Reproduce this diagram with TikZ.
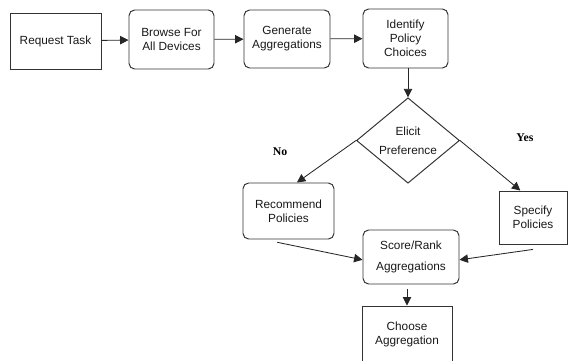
\documentclass[tikz,border=0pt]{standalone}
\usepackage{fontspec}
\setsansfont{Liberation Sans}
\setmainfont{Liberation Serif}
\usetikzlibrary{arrows.meta, positioning, shapes.geometric}

\begin{document}
\begin{tikzpicture}[
    >={Triangle[length=6pt, width=6pt]},
    every path/.style={line width=0.6pt, black!85},
    sqbox/.style={rectangle, draw=black!80, line width=0.7pt, inner sep=1pt,
                font=\sffamily\fontsize{8.4}{10}\selectfont, align=center, text=black!90},
    rndbox/.style={sqbox, rounded corners=4pt},
    choicebox/.style={diamond, draw=black!80, line width=0.7pt, inner sep=0pt,
                minimum width=2.575cm, minimum height=2.075cm,
                font=\sffamily\fontsize{8.4}{10}\selectfont, align=center, text=black!90},
    answer/.style={font=\rmfamily\bfseries\fontsize{8.4}{10}\selectfont, text=black},
]
\useasboundingbox (0,0) rectangle (14.2,9);
% top row
\node[sqbox, minimum width=2.275cm, minimum height=1.4cm] (req) at (1.3875, 7.975) {Request Task};
\node[rndbox, minimum width=2.125cm, minimum height=1.475cm] (browse) at (4.2875, 8.0125) {Browse For\\All Devices};
\node[rndbox, minimum width=2.15cm, minimum height=1.45cm] (gen) at (7.175, 8.025) {Generate\\Aggregations};
\node[rndbox, minimum width=2.125cm, minimum height=1.475cm] (ident) at (10.1375, 8.0375) {Identify\\Policy\\Choices};
\draw[->] (req) -- (browse);
\draw[->] (browse) -- (gen);
\draw[->] (gen) -- (ident);
% decision
\node[choicebox] (elicit) at (10.2, 5.4875) {Elicit\\[3.5pt]Preference};
\draw[->] (ident.south -| elicit.north) -- (elicit.north);
\node[answer] (no) at (7.0, 5.2) {No};
\node[answer] (yes) at (13.125, 5.55) {Yes};
\node[rndbox, minimum width=2.275cm, minimum height=1.4cm] (rec) at (7.2125, 3.725) {Recommend\\Policies};
\node[sqbox, minimum width=1.7cm, minimum height=1.325cm] (spec) at (13.325, 3.5625) {Specify\\Policies};
\draw[->] (elicit.west) -- ([xshift=6pt]rec.north);
\draw[->] (elicit.east) -- ([xshift=-9pt]spec.north);
% ranking
\node[rndbox, minimum width=2.4cm, minimum height=1.35cm] (score) at (10.275, 2.575) {Score/Rank\\[5pt]Aggregations};
\draw[->] ([xshift=-8pt, yshift=-2pt]rec.south) -- ([yshift=-2pt]score.west);
\draw[->] ([yshift=-3.5pt]spec.south) -- ([yshift=-2pt]score.east);
\node[sqbox, minimum width=2.25cm, minimum height=1.4cm] (choose) at (10.175, 0.65) {Choose\\Aggregation};
\draw[->] ([yshift=-3pt]score.south -| choose.north) -- (choose.north);
\end{tikzpicture}
\end{document}
